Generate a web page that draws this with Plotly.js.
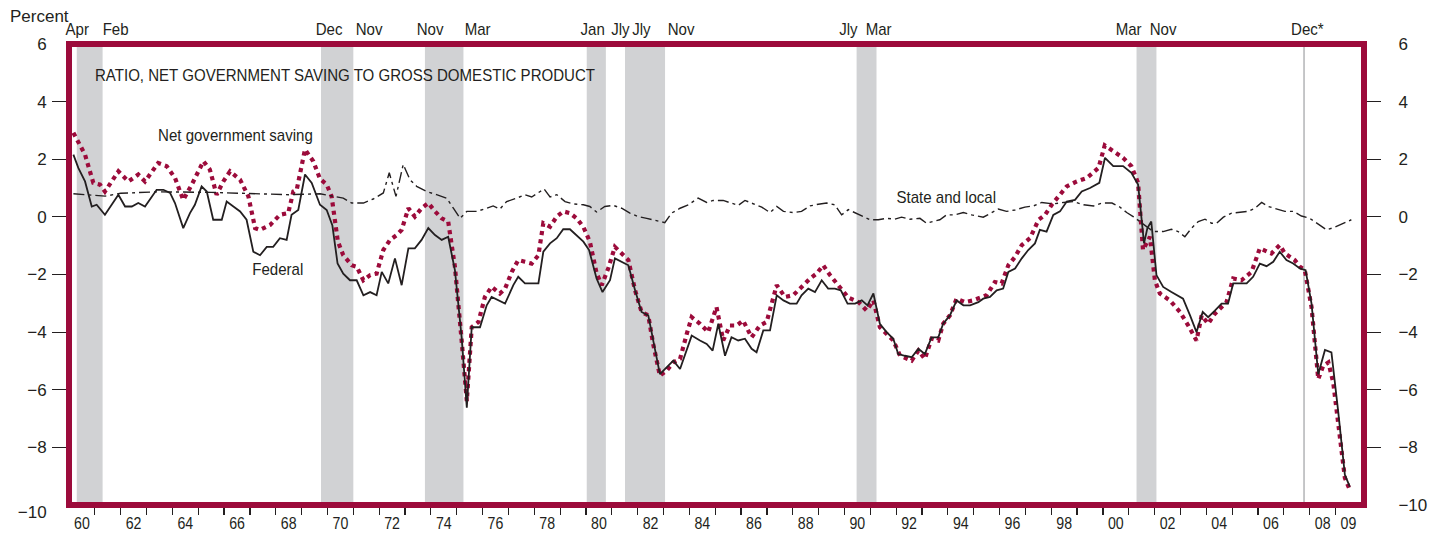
<!DOCTYPE html>
<html>
<head>
<meta charset="utf-8">
<script src="https://cdn.plot.ly/plotly-3.0.1.min.js"></script>
<style>html,body{margin:0;padding:0;background:#fff;}#chart{width:1431px;height:536px;}</style>
</head>
<body>
<div id="chart"></div>
<script>
// ---------- DATA ----------
var netX = [1960.17,1960.62,1960.94,1961.20,1961.39,1961.91,1962.30,1962.68,1962.94,1963.45,1963.78,1964.10,1964.42,1964.75,1965.20,1965.45,1965.71,1965.97,1966.23,1966.62,1966.94,1967.20,1967.39,1967.78,1968.16,1968.48,1968.68,1968.81,1969.13,1969.45,1969.71,1969.97,1970.16,1970.40,1970.61,1970.94,1971.13,1971.39,1971.65,1971.90,1972.16,1972.42,1972.68,1972.87,1973.13,1973.38,1973.64,1973.90,1974.16,1974.42,1974.67,1974.93,1975.19,1975.39,1975.58,1975.84,1976.09,1976.35,1976.67,1976.87,1977.13,1977.38,1977.64,1977.90,1978.16,1978.35,1978.61,1978.87,1979.12,1979.38,1979.64,1979.90,1980.15,1980.41,1980.61,1980.86,1981.12,1981.38,1981.64,1981.90,1982.15,1982.41,1982.60,1982.86,1983.12,1983.38,1983.64,1983.90,1984.09,1984.41,1984.73,1985.05,1985.31,1985.57,1985.83,1986.08,1986.41,1986.73,1986.99,1987.38,1987.70,1988.02,1988.34,1988.67,1988.92,1989.18,1989.44,1989.83,1990.15,1990.55,1990.86,1991.12,1991.37,1991.89,1992.15,1992.60,1992.86,1993.11,1993.37,1993.63,1993.82,1994.08,1994.34,1994.66,1994.98,1995.50,1995.82,1996.08,1996.34,1996.60,1996.86,1997.18,1997.51,1997.76,1998.02,1998.34,1998.60,1998.99,1999.38,1999.83,2000.07,2000.40,2000.78,2001.10,2001.36,2001.55,2001.82,2002.01,2002.20,2002.59,2002.98,2003.30,2003.62,2003.82,2004.07,2004.33,2004.78,2005.04,2005.36,2005.75,2006.07,2006.52,2006.84,2007.04,2007.42,2007.62,2007.81,2008.07,2008.33,2008.52,2008.72,2008.91,2009.17,2009.36,2009.55];
var netY = [2.92,2.16,1.18,1.12,0.88,1.58,1.23,1.47,1.23,1.87,1.76,1.35,0.59,1.12,1.93,1.64,0.77,1.23,1.58,1.29,0.71,-0.39,-0.45,-0.28,0.07,0.13,0.88,0.94,2.34,1.93,1.32,1.12,0.71,-0.85,-1.33,-1.68,-1.73,-2.20,-2.02,-1.97,-1.15,-0.80,-0.63,-0.45,0.30,0.01,0.30,0.48,0.19,-0.05,-0.16,-1.73,-4.29,-6.39,-3.83,-3.65,-2.78,-2.43,-2.66,-2.49,-1.91,-1.50,-1.56,-1.62,-1.33,-0.22,-0.34,0.01,0.19,0.13,-0.05,-0.35,-0.86,-1.95,-2.37,-1.79,-1.04,-1.27,-1.50,-2.55,-3.30,-3.42,-4.41,-5.51,-5.34,-5.05,-4.93,-4.06,-3.48,-3.71,-4.00,-3.13,-4.29,-3.77,-3.77,-3.60,-4.18,-3.77,-3.65,-2.37,-2.78,-2.72,-2.43,-2.14,-1.97,-1.68,-2.02,-2.45,-2.80,-2.96,-3.25,-2.90,-3.83,-4.29,-4.82,-4.99,-4.64,-4.93,-4.23,-4.29,-3.71,-3.42,-2.84,-2.96,-2.90,-2.72,-2.26,-2.31,-1.68,-1.39,-0.98,-0.74,-0.10,0.07,0.42,0.77,1.06,1.23,1.35,1.70,2.48,2.28,2.05,1.76,1.18,-1.15,-0.69,-2.20,-2.66,-2.90,-3.30,-3.77,-4.29,-3.42,-3.71,-3.36,-2.96,-2.14,-2.20,-1.91,-1.09,-1.27,-0.98,-1.27,-1.50,-1.73,-1.85,-3.13,-5.63,-5.17,-5.05,-5.75,-7.55,-9.06,-9.47];

var fedX = [1960.17,1960.36,1960.62,1960.88,1961.07,1961.39,1961.65,1961.91,1962.17,1962.43,1962.68,1962.94,1963.39,1963.65,1963.91,1964.10,1964.42,1964.68,1964.87,1965.13,1965.33,1965.58,1965.91,1966.10,1966.36,1966.62,1966.87,1967.13,1967.39,1967.65,1967.90,1968.16,1968.42,1968.61,1968.87,1969.13,1969.39,1969.71,1969.97,1970.19,1970.39,1970.61,1970.87,1971.13,1971.39,1971.65,1971.90,1972.10,1972.35,1972.61,1972.87,1973.13,1973.38,1973.64,1973.90,1974.16,1974.42,1974.67,1974.93,1975.19,1975.39,1975.58,1975.90,1976.16,1976.35,1976.87,1977.19,1977.38,1977.64,1978.16,1978.35,1978.61,1978.87,1979.12,1979.38,1979.64,1979.90,1980.12,1980.41,1980.64,1980.93,1981.12,1981.38,1981.64,1981.90,1982.15,1982.41,1982.63,1982.86,1983.12,1983.38,1983.64,1983.90,1984.09,1984.41,1984.67,1984.90,1985.12,1985.38,1985.63,1985.89,1986.15,1986.41,1986.60,1986.86,1987.12,1987.38,1987.64,1987.89,1988.15,1988.34,1988.60,1988.86,1989.12,1989.37,1989.63,1989.86,1990.12,1990.41,1990.67,1990.89,1991.12,1991.37,1991.63,1991.89,1992.08,1992.34,1992.60,1992.86,1993.11,1993.37,1993.63,1993.82,1994.08,1994.34,1994.60,1994.86,1995.18,1995.37,1995.63,1995.89,1996.14,1996.34,1996.60,1996.86,1997.11,1997.37,1997.56,1997.82,1998.08,1998.34,1998.60,1998.92,1999.18,1999.50,1999.86,2000.08,2000.40,2000.78,2001.10,2001.36,2001.59,2001.72,2001.87,2002.07,2002.33,2002.65,2003.10,2003.37,2003.62,2003.86,2004.07,2004.33,2004.59,2004.84,2005.04,2005.56,2005.81,2006.07,2006.33,2006.59,2006.84,2007.10,2007.36,2007.62,2007.84,2008.07,2008.33,2008.59,2008.84,2009.10,2009.36,2009.55];
var fedY = [2.16,1.70,1.23,0.36,0.42,0.07,0.42,0.77,0.36,0.36,0.48,0.36,0.94,0.94,0.83,0.48,-0.39,0.13,0.42,1.06,0.88,-0.10,-0.10,0.53,0.36,0.19,-0.10,-1.21,-1.33,-1.04,-1.04,-0.74,-0.80,0.07,0.24,1.47,1.18,0.42,0.24,-0.30,-1.62,-1.97,-2.20,-2.20,-2.72,-2.61,-2.72,-1.91,-2.31,-1.44,-2.37,-1.09,-1.09,-0.80,-0.39,-0.63,-0.80,-0.69,-1.85,-4.18,-6.62,-3.83,-3.83,-3.07,-2.78,-3.01,-2.37,-2.08,-2.31,-2.31,-1.21,-0.92,-0.74,-0.43,-0.43,-0.63,-0.86,-1.15,-2.14,-2.61,-2.20,-1.44,-1.56,-1.68,-2.55,-3.30,-3.42,-4.47,-5.46,-5.22,-4.99,-5.28,-4.64,-4.12,-4.29,-4.41,-4.64,-3.71,-4.82,-4.18,-4.29,-4.23,-4.58,-4.70,-3.94,-3.94,-2.72,-2.90,-3.01,-3.01,-2.72,-2.49,-2.61,-2.20,-2.49,-2.49,-2.55,-3.01,-3.01,-2.90,-3.07,-2.66,-3.71,-4.00,-4.23,-4.76,-4.82,-4.87,-4.58,-4.76,-4.18,-4.18,-3.71,-3.42,-2.90,-3.07,-3.07,-2.96,-2.84,-2.78,-2.55,-2.49,-1.91,-1.79,-1.44,-1.15,-0.92,-0.45,-0.51,0.07,0.19,0.53,0.59,0.88,1.00,1.18,2.05,1.76,1.76,1.53,1.12,-0.92,-0.39,-0.16,-2.02,-2.43,-2.61,-2.84,-3.42,-4.00,-3.30,-3.48,-3.25,-3.01,-3.01,-2.31,-2.31,-2.08,-1.62,-1.71,-1.56,-1.21,-1.50,-1.62,-1.79,-1.85,-3.01,-5.46,-4.62,-4.70,-6.74,-8.95,-9.36];

var slX = [1960.17,1961.40,1962.00,1963.50,1965.50,1967.00,1968.50,1969.71,1970.22,1970.61,1970.94,1971.39,1971.77,1972.16,1972.39,1972.65,1972.93,1973.19,1973.45,1973.84,1974.22,1974.61,1974.87,1975.13,1975.39,1975.77,1976.16,1976.41,1976.67,1976.93,1977.32,1977.64,1977.90,1978.16,1978.38,1978.61,1978.87,1979.19,1979.50,1979.90,1980.15,1980.41,1980.73,1981.05,1981.38,1981.70,1982.02,1982.35,1982.67,1983.05,1983.31,1983.64,1983.96,1984.34,1984.67,1984.92,1985.31,1985.63,1985.89,1986.15,1986.47,1986.80,1987.12,1987.38,1987.64,1988.02,1988.34,1988.67,1988.99,1989.31,1989.63,1989.89,1990.15,1990.45,1990.73,1991.00,1991.31,1991.63,1991.95,1992.21,1992.53,1992.92,1993.17,1993.50,1993.69,1993.95,1994.27,1994.60,1994.92,1995.37,1995.69,1995.95,1996.27,1996.60,1996.98,1997.31,1997.63,1998.08,1998.47,1998.86,1999.25,1999.64,1999.96,2000.35,2000.64,2000.92,2001.17,2001.43,2001.69,2001.95,2002.33,2002.65,2002.91,2003.17,2003.43,2003.69,2003.95,2004.20,2004.40,2004.66,2004.98,2005.30,2005.62,2005.88,2006.14,2006.40,2006.72,2007.04,2007.36,2007.68,2008.00,2008.39,2008.65,2008.97,2009.29,2009.61];
var slY = [0.80,0.72,0.82,0.87,0.85,0.80,0.77,0.80,0.71,0.65,0.48,0.48,0.62,0.83,1.53,0.71,1.82,1.29,1.06,0.88,0.77,0.65,0.30,-0.05,0.19,0.19,0.30,0.38,0.27,0.53,0.65,0.77,0.69,0.83,0.97,0.69,0.77,0.53,0.45,0.42,0.36,0.17,0.36,0.40,0.30,0.13,0.01,-0.05,-0.13,-0.20,0.13,0.30,0.42,0.65,0.50,0.57,0.57,0.48,0.40,0.57,0.45,0.34,0.15,0.36,0.19,0.15,0.19,0.38,0.44,0.48,0.42,0.07,0.25,0.12,-0.01,-0.10,-0.10,-0.05,-0.08,-0.01,-0.08,-0.05,-0.22,-0.13,-0.10,0.07,0.07,0.15,0.07,-0.01,0.15,0.27,0.19,0.24,0.34,0.38,0.50,0.45,0.50,0.53,0.42,0.38,0.48,0.48,0.35,0.15,0.01,-0.16,-0.36,-0.51,-0.51,-0.43,-0.51,-0.69,-0.39,-0.16,-0.08,-0.22,-0.22,-0.01,0.13,0.15,0.19,0.30,0.50,0.36,0.27,0.19,0.19,0.03,-0.05,-0.28,-0.45,-0.36,-0.24,-0.10];

// recessions (shaded) and the Dec 2007 peak marker
var recStart = [1960.30,1969.75,1973.77,1980.03,1981.51,1990.47,2001.30];
var recEnd   = [1961.30,1971.00,1975.26,1980.77,1983.06,1991.24,2002.07];
var peakLine = 2007.78;

// labels above the frame
var monthText = ['Apr','Feb','Dec','Nov','Nov','Mar','Jan','Jly','Jly','Nov','Jly','Mar','Mar','Nov','Dec*'];
var monthPos  = [1960.33,1961.78,1970.06,1971.61,1973.99,1975.82,1980.27,1981.32,1982.13,1983.68,1990.14,1991.33,2001.01,2002.36,2007.93];

// axis ticks
var xLabelText = ['60','62','64','66','68','70','72','74','76','78','80','82','84','86','88','90','92','94','96','98','00','02','04','06','08','09'];
var xLabelYears = [1960,1962,1964,1966,1968,1970,1972,1974,1976,1978,1980,1982,1984,1986,1988,1990,1992,1994,1996,1998,2000,2002,2004,2006,2008,2009];
var yTicks = [6,4,2,0,-2,-4,-6,-8,-10];
var yInnerTicks = [4,2,0,-2,-4,-6,-8];

// ---------- CHART ----------
var RED = '#9c0b3b';
var INK = '#231f20';
var SANS = '"Liberation Sans", Arial, Helvetica, sans-serif';
var CONDENSED_SIZE = 17;
var CONDENSE = 0.886;   // horizontal squeeze to imitate the condensed face of the original

var yearBounds = [];
for (var yr = 1961; yr <= 2009; yr++) yearBounds.push(yr);
var xLabelVals = xLabelYears.map(function (v) { return v + 0.5; });

var traces = [
  {x: netX, y: netY, type: 'scatter', mode: 'lines', line: {color: RED, width: 4.2, dash: 'dot'}, hoverinfo: 'skip', showlegend: false},
  {x: fedX, y: fedY, type: 'scatter', mode: 'lines', line: {color: INK, width: 1.8}, hoverinfo: 'skip', showlegend: false},
  {x: slX, y: slY, type: 'scatter', mode: 'lines', line: {color: INK, width: 1.4, dash: '11px,4px,3px,4px'}, hoverinfo: 'skip', showlegend: false},
  {x: [1960], y: [0], yaxis: 'y2', type: 'scatter', mode: 'markers', marker: {opacity: 0}, hoverinfo: 'skip', showlegend: false}
];

var shapes = [];
for (var i = 0; i < recStart.length; i++) {
  shapes.push({type: 'rect', xref: 'x', yref: 'paper', x0: recStart[i], x1: recEnd[i], y0: 0, y1: 1,
               fillcolor: '#d1d2d4', line: {width: 0}, layer: 'below'});
}
shapes.push({type: 'line', xref: 'x', yref: 'paper', x0: peakLine, x1: peakLine, y0: 0, y1: 1,
             line: {color: '#a7a9ac', width: 1.3}, layer: 'below'});
shapes.push({type: 'rect', xref: 'paper', yref: 'paper', x0: 0, x1: 1, y0: 0, y1: 1,
             line: {color: RED, width: 6}, fillcolor: 'rgba(0,0,0,0)', layer: 'above'});

var annotations = [];
for (var j = 0; j < monthText.length; j++) {
  annotations.push({xref: 'x', yref: 'paper', x: monthPos[j], y: 1.0325, text: monthText[j], showarrow: false,
                    xanchor: 'center', yanchor: 'middle', font: {family: SANS, size: CONDENSED_SIZE, color: INK}});
}
annotations.push({xref: 'paper', yref: 'paper', x: -0.0224, y: 1.0586, text: 'Percent', showarrow: false,
                  xanchor: 'center', yanchor: 'middle', font: {family: SANS, size: 17, color: INK}});
annotations.push({xref: 'paper', yref: 'paper', x: 0.0185, y: 0.9306, text: 'RATIO, NET GOVERNMENT SAVING TO GROSS DOMESTIC PRODUCT',
                  showarrow: false, xanchor: 'left', yanchor: 'middle', align: 'left', font: {family: SANS, size: CONDENSED_SIZE, color: INK}});
annotations.push({xref: 'x', yref: 'y', x: 1966.46, y: 2.81, text: 'Net government saving', showarrow: false,
                  xanchor: 'center', yanchor: 'middle', font: {family: SANS, size: CONDENSED_SIZE, color: INK}});
annotations.push({xref: 'x', yref: 'y', x: 1968.09, y: -1.84, text: 'Federal', showarrow: false,
                  xanchor: 'center', yanchor: 'middle', font: {family: SANS, size: CONDENSED_SIZE, color: INK}});
annotations.push({xref: 'x', yref: 'y', x: 1993.93, y: 0.66, text: 'State and local', showarrow: false,
                  xanchor: 'center', yanchor: 'middle', font: {family: SANS, size: CONDENSED_SIZE, color: INK}});

var yCommon = {
  range: [-10, 6], tickmode: 'array', tickvals: yTicks, ticks: 'outside', ticklen: 16,
  tickcolor: 'rgba(0,0,0,0)', showgrid: false, zeroline: false, showline: false,
  tickfont: {family: SANS, size: 17, color: INK},
  minor: {tickmode: 'array', tickvals: yInnerTicks, ticks: 'outside', ticklen: 16, tickcolor: INK, tickwidth: 1.2, showgrid: false}
};

var layout = {
  width: 1431, height: 536,
  margin: {l: 69, r: 67, t: 44, b: 31, pad: 0},
  paper_bgcolor: '#ffffff', plot_bgcolor: '#ffffff',
  showlegend: false,
  xaxis: {
    range: [1960, 2010.1], tickmode: 'array', tickvals: xLabelVals, ticktext: xLabelText,
    ticks: 'outside', ticklen: 4, tickcolor: 'rgba(0,0,0,0)', showgrid: false, zeroline: false, showline: false,
    tickfont: {family: SANS, size: 16, color: INK}, tickangle: 0,
    minor: {tickmode: 'array', tickvals: yearBounds, ticks: 'outside', ticklen: 9, tickcolor: INK, tickwidth: 1.2, showgrid: false}
  },
  yaxis: Object.assign({}, yCommon, {side: 'left', ticklabelstandoff: 2}),
  yaxis2: Object.assign({}, yCommon, {side: 'right', overlaying: 'y', ticklabelstandoff: 14}),
  shapes: shapes,
  annotations: annotations
};

function condense(el, s) {
  var x = parseFloat(el.getAttribute('x')) || 0;
  var t = el.getAttribute('transform') || '';
  el.setAttribute('transform', t + ' translate(' + x + ',0) scale(' + s + ',1) translate(' + (-x) + ',0)');
}

Plotly.newPlot('chart', traces, layout, {displayModeBar: false, staticPlot: true}).then(function () {
  document.querySelectorAll('#chart .annotation-text').forEach(function (el) {
    if (el.textContent !== 'Percent') condense(el, CONDENSE);
  });
  document.querySelectorAll('#chart .xtick text').forEach(function (el) { condense(el, CONDENSE); });
  // the original drops the left-hand bottom label slightly below its tick
  document.querySelectorAll('#chart .ytick text').forEach(function (el) {
    if (/10$/.test(el.textContent)) {
      var t = el.getAttribute('transform') || '';
      el.setAttribute('transform', t + ' translate(0,7)');
    }
  });
});
</script>
</body>
</html>
